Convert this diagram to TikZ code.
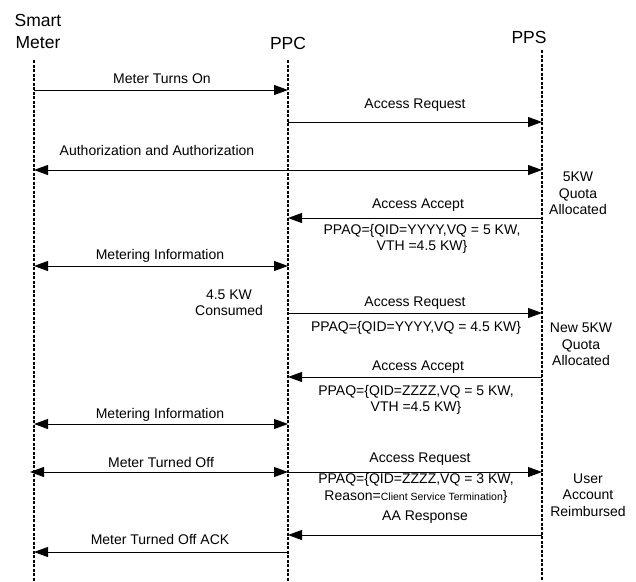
\documentclass[tikz,border=0pt]{standalone}
\usepackage{fontspec}
\setmainfont{Liberation Sans}
\usetikzlibrary{arrows.meta}
\begin{document}
\begin{tikzpicture}[x=1pt,y=-1pt,
  lifeline/.style={line width=1.3pt, dash pattern=on 3pt off 1.5pt},
  msg/.style={line width=0.9pt, -{Triangle[length=14pt,width=10pt]}},
  bimsg/.style={line width=0.9pt, {Triangle[length=14pt,width=10pt]}-{Triangle[length=14pt,width=10pt]}},
  lbl/.style={font=\fontsize{14}{16.5}\selectfont, inner sep=0pt, align=center},
  hdr/.style={font=\fontsize{17.5}{22}\selectfont, inner sep=0pt, align=center}
]
\useasboundingbox (0,0) rectangle (636,581);

% headers
\node[hdr] (smh) at (38,31) {Smart\\Meter};
\node[hdr] (ppch) at (288,43) {PPC};
\node[hdr] (ppsh) at (529,37) {PPS};

% lifelines
\coordinate (smtop) at (34,60);
\coordinate (smbot) at (34,581);
\coordinate (ppctop) at (288,60);
\coordinate (ppcbot) at (288,581);
\coordinate (ppstop) at (542,50);
\coordinate (ppsbot) at (542,581);
\draw[lifeline] (smtop) -- (smbot);
\draw[lifeline] (ppctop) -- (ppcbot);
\draw[lifeline] (ppstop) -- (ppsbot);

% 1 Meter Turns On
\coordinate (smA) at (34,90); \coordinate (ppcA) at (288,90);
\draw[msg] (smA) -- (ppcA);
\node[lbl] (lA) at (162,79) {Meter Turns On};

% 2 Access Request
\coordinate (ppcB) at (288,122); \coordinate (ppsB) at (542,122);
\draw[msg] (ppcB) -- (ppsB);
\node[lbl] (lB) at (415,105) {Access Request};

% 3 Authorization
\coordinate (smC) at (34,170); \coordinate (ppsC) at (542,170);
\draw[bimsg] (smC) -- (ppsC);
\node[lbl] (lC) at (157,150) {Authorization and Authorization};

\node[lbl] (q1) at (578,193.5) {5KW\\Quota\\Allocated};

% 5 Access Accept
\coordinate (ppsD) at (542,218); \coordinate (ppcD) at (288,218);
\draw[msg] (ppsD) -- (ppcD);
\node[lbl] (lD) at (418,205) {Access Accept};
\node[lbl] (pD) at (422,239) {PPAQ=\{QID=YYYY,VQ = 5 KW,\\VTH =4.5 KW\}};

% 6 Metering Information
\coordinate (smE) at (34,266); \coordinate (ppcE) at (288,266);
\draw[bimsg] (smE) -- (ppcE);
\node[lbl] (lE) at (160,256) {Metering Information};

\node[lbl] (cons) at (229,302.5) {4.5 KW\\Consumed};

% 8 Access Request
\coordinate (ppcF) at (288,313); \coordinate (ppsF) at (542,313);
\draw[msg] (ppcF) -- (ppsF);
\node[lbl] (lF) at (415,303) {Access Request};
\node[lbl] (pF) at (416,328) {PPAQ=\{QID=YYYY,VQ = 4.5 KW\}};

\node[lbl] (q2) at (581,344.5) {New 5KW\\Quota\\Allocated};

% 10 Access Accept
\coordinate (ppsG) at (542,377); \coordinate (ppcG) at (288,377);
\draw[msg] (ppsG) -- (ppcG);
\node[lbl] (lG) at (418,367) {Access Accept};
\node[lbl] (pG) at (416,400) {PPAQ=\{QID=ZZZZ,VQ = 5 KW,\\VTH =4.5 KW\}};

% 11 Metering Information
\coordinate (smH) at (34,424); \coordinate (ppcH) at (288,424);
\draw[bimsg] (smH) -- (ppcH);
\node[lbl] (lH) at (160,415) {Metering Information};

% 12 Meter Turned Off
\coordinate (smI) at (30,472); \coordinate (ppcI) at (288,472);
\draw[bimsg] (smI) -- (ppcI);
\node[lbl] (lI) at (161,462) {Meter Turned Off};

% 13 Access Request
\coordinate (ppcJ) at (288,472); \coordinate (ppsJ) at (542,472);
\draw[msg] (ppcJ) -- (ppsJ);
\node[lbl] (lJ) at (420,459) {Access Request};
\node[lbl] (pJ) at (416,488.5) {PPAQ=\{QID=ZZZZ,VQ = 3 KW,\\Reason={\fontsize{10.5}{12}\selectfont Client Service Termination}\}};

% 14 AA Response
\coordinate (ppsK) at (542,535); \coordinate (ppcK) at (288,535);
\draw[msg] (ppsK) -- (ppcK);
\node[lbl] (lK) at (425,517) {AA Response};

\node[lbl] (q3) at (588,495) {User\\Account\\Reimbursed};

% 16 Meter Turned Off ACK
\coordinate (ppcL) at (288,552); \coordinate (smL) at (34,552);
\draw[msg] (ppcL) -- (smL);
\node[lbl] (lL) at (160,539) {Meter Turned Off ACK};
\end{tikzpicture}
\end{document}
